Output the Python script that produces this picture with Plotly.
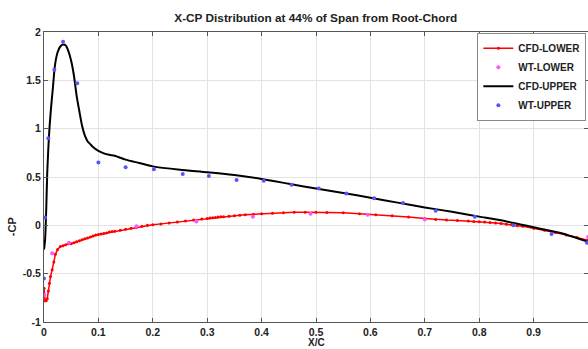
import plotly.graph_objects as go

title_text = "X-CP Distribution at 44% of Span from Root-Chord"
x_title = "X/C"
y_title = "-CP"

cfd_lower_x = [0, 0.002, 0.004, 0.006, 0.008, 0.01, 0.012, 0.015, 0.018, 0.021, 0.025, 0.03, 0.035, 0.04,
               0.045, 0.05, 0.055, 0.06, 0.065, 0.07, 0.075, 0.08, 0.085, 0.09, 0.095, 0.1, 0.105, 0.11,
               0.115, 0.12, 0.125, 0.13, 0.14, 0.15, 0.16, 0.17, 0.18, 0.19, 0.2, 0.215, 0.23, 0.245,
               0.26, 0.275, 0.29, 0.3, 0.305, 0.31, 0.315, 0.32, 0.325, 0.33, 0.34, 0.35, 0.36, 0.37,
               0.385, 0.4, 0.42, 0.44, 0.46, 0.48, 0.5, 0.52, 0.55, 0.58, 0.61, 0.64, 0.67, 0.7, 0.72,
               0.74, 0.76, 0.78, 0.79, 0.8, 0.81, 0.82, 0.83, 0.84, 0.85, 0.86, 0.87, 0.88, 0.9, 0.92,
               0.94, 0.96, 0.98, 1.0]
cfd_lower_cp = [-0.65, -0.78, -0.78, -0.76, -0.68, -0.6, -0.53, -0.46, -0.38, -0.3, -0.25, -0.22, -0.21, -0.2,
                -0.19, -0.19, -0.18, -0.17, -0.16, -0.15, -0.14, -0.13, -0.12, -0.11, -0.1, -0.095, -0.09, -0.085,
                -0.08, -0.07, -0.065, -0.06, -0.05, -0.04, -0.03, -0.02, -0.01, 0.0, 0.005, 0.015, 0.025, 0.035,
                0.045, 0.055, 0.065, 0.07, 0.075, 0.078, 0.082, 0.085, 0.088, 0.09, 0.095, 0.1, 0.105, 0.11,
                0.115, 0.12, 0.125, 0.13, 0.135, 0.135, 0.135, 0.133, 0.13, 0.12, 0.11, 0.1, 0.085, 0.07, 0.06,
                0.055, 0.05, 0.045, 0.04, 0.038, 0.034, 0.03, 0.025, 0.02, 0.01, 0.005, -0.005, -0.01, -0.03, -0.05,
                -0.075, -0.1, -0.125, -0.155]

wt_lower_x = [0.001, 0.015, 0.046, 0.17, 0.28, 0.384, 0.49, 0.595, 0.70, 1.0]
wt_lower_cp = [-0.72, -0.29, -0.18, -0.01, 0.04, 0.09, 0.12, 0.11, 0.06, -0.12]

cfd_upper_x = [0, 0.002, 0.004, 0.006, 0.008, 0.01, 0.013, 0.016, 0.02, 0.025, 0.03, 0.035, 0.04, 0.045,
               0.05, 0.055, 0.06, 0.065, 0.07, 0.075, 0.08, 0.085, 0.09, 0.1, 0.11, 0.12, 0.13, 0.15, 0.175,
               0.2, 0.25, 0.3, 0.35, 0.4, 0.45, 0.5, 0.55, 0.6, 0.65, 0.7, 0.75, 0.8, 0.85, 0.9, 0.95, 1.0]
cfd_upper_cp = [-0.25, -0.15, 0.15, 0.55, 0.8, 1.0, 1.22, 1.4, 1.65, 1.79, 1.85, 1.87, 1.86, 1.8,
                1.7, 1.55, 1.34, 1.18, 1.03, 0.93, 0.87, 0.84, 0.81, 0.77, 0.745, 0.73, 0.72, 0.68, 0.645,
                0.61, 0.575, 0.55, 0.52, 0.48, 0.43, 0.38, 0.335, 0.285, 0.235, 0.185, 0.14, 0.09, 0.04,
                -0.02, -0.08, -0.17]

wt_upper_x = [0, 0.002, 0.008, 0.019, 0.035, 0.061, 0.1, 0.15, 0.202, 0.255, 0.303, 0.354, 0.404, 0.455,
              0.505, 0.556, 0.607, 0.66, 0.72, 0.792, 0.863, 0.933, 0.998]
wt_upper_cp = [-0.55, 0.08, 0.9, 1.61, 1.9, 1.47, 0.65, 0.6, 0.58, 0.53, 0.51, 0.47, 0.46, 0.42,
               0.38, 0.33, 0.28, 0.23, 0.15, 0.09, 0.0, -0.09, -0.18]

x_ticks = [0, 0.1, 0.2, 0.3, 0.4, 0.5, 0.6, 0.7, 0.8, 0.9, 1]
x_tick_labels = ["0", "0.1", "0.2", "0.3", "0.4", "0.5", "0.6", "0.7", "0.8", "0.9", "1"]
y_ticks = [-1, -0.5, 0, 0.5, 1, 1.5, 2]
y_tick_labels = ["-1", "-0.5", "0", "0.5", "1", "1.5", "2"]

FONT = "Liberation Sans, Arial, sans-serif"
TXT = "#222222"

fig = go.Figure()
fig.add_trace(go.Scatter(x=cfd_lower_x, y=cfd_lower_cp, mode="lines+markers", name="CFD-LOWER",
                         line=dict(color="#ff0000", width=1.5), marker=dict(color="#ff0000", size=3)))
fig.add_trace(go.Scatter(x=wt_lower_x, y=wt_lower_cp, mode="markers", name="WT-LOWER",
                         marker=dict(color="#ff55ff", size=4)))
fig.add_trace(go.Scatter(x=cfd_upper_x, y=cfd_upper_cp, mode="lines", name="CFD-UPPER",
                         line=dict(color="#000000", width=2, shape="spline", smoothing=0.6)))
fig.add_trace(go.Scatter(x=wt_upper_x, y=wt_upper_cp, mode="markers", name="WT-UPPER",
                         marker=dict(color="#5555ff", size=4)))

axis_common = dict(showgrid=True, gridcolor="#e3e3e3", gridwidth=1, showline=True, linecolor="#555555",
                   linewidth=1, mirror="ticks", ticks="inside", ticklen=4, tickcolor="#555555",
                   zeroline=False, tickfont=dict(family=FONT, size=10.5, color=TXT, weight="bold"),
                   automargin=False)

fig.update_layout(
    width=588, height=349,
    margin=dict(l=44, r=0, t=32, b=27),
    paper_bgcolor="white", plot_bgcolor="white",
    title=dict(text=title_text, x=0.537, xanchor="center", y=0.95, yanchor="middle",
               font=dict(family=FONT, size=11.8, color=TXT, weight="bold")),
    xaxis=dict(range=[0, 1], tickvals=x_ticks, ticktext=x_tick_labels, ticklabelstandoff=0, **axis_common),
    yaxis=dict(range=[-1, 2], tickvals=y_ticks, ticktext=y_tick_labels, **axis_common),
    showlegend=True,
    legend=dict(x=0.997, xanchor="right", y=0.997, yanchor="top", bgcolor="white",
                bordercolor="#888888", borderwidth=1, tracegroupgap=0, itemwidth=30,
                font=dict(family=FONT, size=10, color=TXT, weight="bold")),
    annotations=[
        dict(text=x_title, xref="paper", yref="paper", x=0.5, y=-0.0724, xanchor="center", yanchor="middle",
             showarrow=False, font=dict(family=FONT, size=10, color=TXT, weight="bold")),
        dict(text=y_title, xref="paper", yref="paper", x=-0.059, y=0.33, xanchor="center", yanchor="middle",
             textangle=-90, showarrow=False, font=dict(family=FONT, size=11, color=TXT, weight="bold")),
    ],
)

fig.write_html("out.html")
